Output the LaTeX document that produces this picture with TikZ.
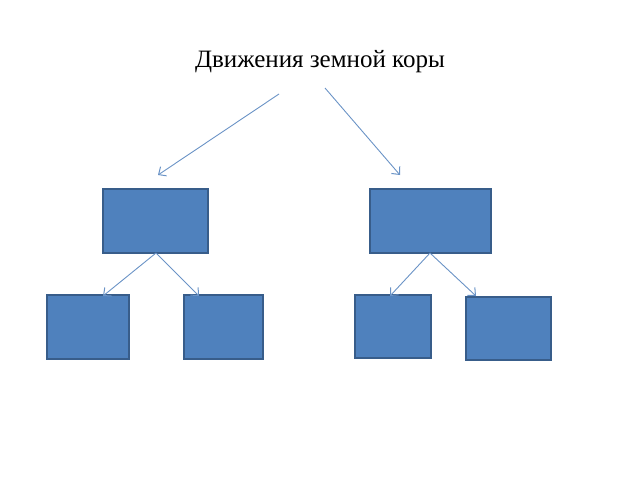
\documentclass[tikz,border=0pt]{standalone}
\usepackage{fontspec}
\setmainfont{Liberation Serif}
\usetikzlibrary{arrows.meta}
\definecolor{boxfill}{HTML}{4F81BD}
\definecolor{boxline}{HTML}{385D8A}
\definecolor{arrowcol}{HTML}{6A93C6}
\tikzset{
  bluebox/.style={draw=boxline, fill=boxfill, line width=1.6pt},
  link/.style={draw=arrowcol, line width=0.9pt, -{Straight Barb[length=6pt,width=11pt,line width=1pt]}}
}
\begin{document}
\begin{tikzpicture}[x=1pt,y=-1pt]
\useasboundingbox (0,0) rectangle (640,480);
\node[font=\fontsize{25}{29}\selectfont, anchor=center] (title) at (320,62) {Движения земной коры};
% boxes
\draw[bluebox] (103,189) rectangle (208,253);
\draw[bluebox] (370,189) rectangle (491,253);
\draw[bluebox] (47,295) rectangle (129,359);
\draw[bluebox] (184,295) rectangle (263,359);
\draw[bluebox] (355,295) rectangle (431,358);
\draw[bluebox] (466,297) rectangle (551,360);
% connector points
\coordinate (tl) at (279,94);
\coordinate (tr) at (325,88);
\coordinate (al) at (158,175);
\coordinate (ar) at (400,175);
\coordinate (a) at (156,253);
\coordinate (b) at (430,253);
\coordinate (c) at (103,296);
\coordinate (d) at (199,296);
\coordinate (e) at (390,296);
\coordinate (f) at (476,296);
\draw[link] (tl) -- (al);
\draw[link] (tr) -- (ar);
\draw[link] (a) -- (c);
\draw[link] (a) -- (d);
\draw[link] (b) -- (e);
\draw[link] (b) -- (f);
\end{tikzpicture}
\end{document}
